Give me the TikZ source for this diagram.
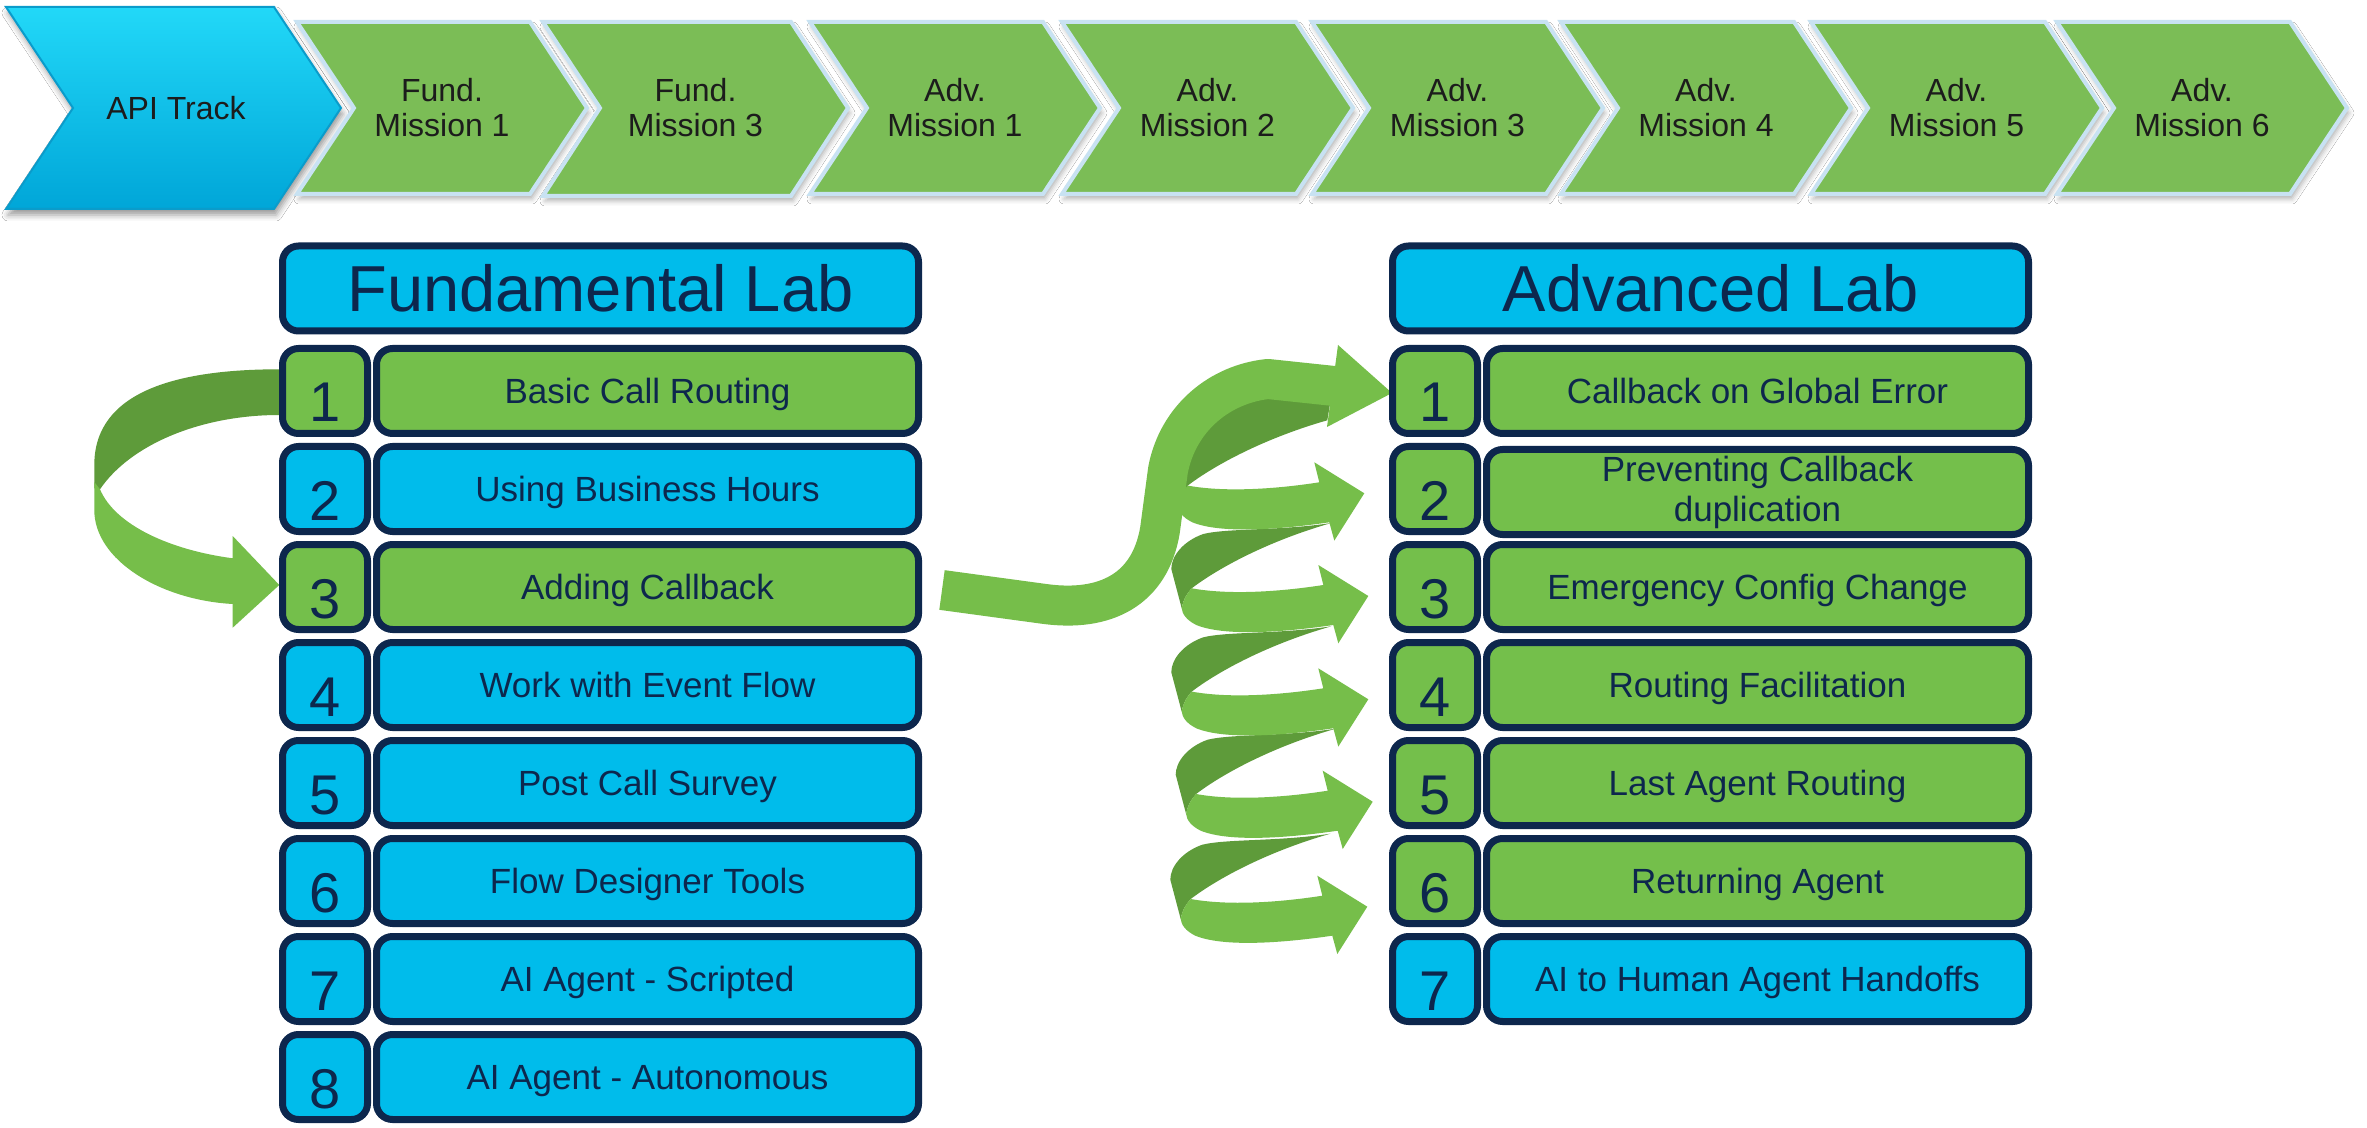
\documentclass[tikz,border=0pt]{standalone}
\usepackage{fontspec}
\setmainfont{Liberation Sans}
\usetikzlibrary{shadows.blur}

\definecolor{boxblue}{HTML}{00BCEB}
\definecolor{boxgreen}{HTML}{74BF4B}
\definecolor{navy}{HTML}{0D274D}
\definecolor{ribbonlight}{HTML}{76BE4A}
\definecolor{ribbondark}{HTML}{5E9B3A}
\definecolor{chevfill}{HTML}{7BBD56}
\definecolor{chevedge}{HTML}{C8E2F2}
\definecolor{apitop}{HTML}{22D8F8}
\definecolor{apibot}{HTML}{00A6D8}
\definecolor{apiedge}{HTML}{0A9CCB}
\definecolor{chevink}{HTML}{1C1C1C}

% green mission chevron: #1 left x, #2 total width, #3 bottom y, #4 name, #5 label
\newcommand\mychev[5]{%
  \path[chevgreen] (#1,22) -- ({#1+#2-57},22) -- ({#1+#2},108) -- ({#1+#2-57},#3)
    -- (#1,#3) -- ({#1+57},108) -- cycle;
  \node[chevtext] (#4) at ({#1+#2/2},108) {#5};
}

\begin{document}
\begin{tikzpicture}[x=0.5pt,y=-0.5pt,
  chevgreen/.style={fill=chevfill, draw=chevedge, line width=2pt, line join=miter,
    blur shadow={shadow xshift=1pt, shadow yshift=-2.5pt, shadow blur radius=2.5pt, shadow opacity=30}},
  apichev/.style={top color=apitop, bottom color=apibot, draw=apiedge, line width=1pt,
    blur shadow={shadow xshift=1pt, shadow yshift=-3pt, shadow blur radius=3pt, shadow opacity=40}},
  chevtext/.style={align=center, text=chevink, font=\fontsize{16}{17.5}\selectfont, inner sep=0pt},
  labbox/.style={draw=navy, line width=3.5pt, rounded corners=8pt, inner sep=0pt, text=navy},
  numbox/.style={labbox, minimum width=42.5pt, minimum height=42.5pt,
    font=\fontsize{28}{30}\selectfont, text height=33pt, text depth=2pt},
  itembox/.style={labbox, minimum width=271pt, minimum height=42.5pt,
    font=\fontsize{17.5}{20}\selectfont, text height=15pt, text depth=2.5pt},
  itemtwo/.style={labbox, minimum width=271pt, minimum height=42.5pt, align=center,
    font=\fontsize{17.5}{20}\selectfont},
  headbox/.style={labbox, fill=boxblue, minimum width=318pt, minimum height=42.5pt,
    font=\fontsize{32.5}{36}\selectfont},
]
\useasboundingbox (0,0) rectangle (2367,1128);
\fill[white] (0,0) rectangle (2367,1128);

% ---- track banner ----
\path[apichev] (6,7) -- (274,7) -- (341,108) -- (274,209) -- (6,209) -- (73,108) -- cycle;
\node[chevtext] (api) at (176,108) {API Track};
\mychev{297}{290}{194}{m1}{Fund.\\Mission 1}
\mychev{543}{305}{196}{m2}{Fund.\\Mission 3}
\mychev{810}{290}{194}{m3}{Adv.\\Mission 1}
\mychev{1062}{291}{194}{m4}{Adv.\\Mission 2}
\mychev{1312}{291}{194}{m5}{Adv.\\Mission 3}
\mychev{1561}{290}{194}{m6}{Adv.\\Mission 4}
\mychev{1811}{291}{194}{m7}{Adv.\\Mission 5}
\mychev{2057}{290}{194}{m8}{Adv.\\Mission 6}

% ---- coil ribbon: back faces ----
\fill[ribbondark] (1330,404) .. controls (1300,398) and (1285,394) .. (1262,394)
  .. controls (1230,395) and (1200,415) .. (1188,450) -- (1175,480) -- (1180,505)
  -- (1187.7,485.6) .. controls (1214.3,465.3) and (1264.3,438.3) .. (1327.3,420.3) -- cycle;
\foreach \tx/\ty in {1368.3/596, 1368.3/699.3, 1372.7/801.7, 1367.3/906.7}{
  \begin{scope}[shift={(\tx,\ty)}]
    \fill[ribbondark] (-37,-73) .. controls (-90,-65) and (-140,-68) .. (-165,-62)
      .. controls (-185,-55) and (-197,-40) .. (-197,-27) -- (-186.6,12.3)
      .. controls (-185,3) and (-181,-3) .. (-176.6,-7.7)
      .. controls (-150,-28) and (-100,-55) .. (-37,-73) -- cycle;
  \end{scope}
}
% ---- coil ribbon: front faces with arrow heads ----
\foreach \tx/\ty in {1364.3/493.3, 1368.3/596, 1368.3/699.3, 1372.7/801.7, 1367.3/906.7}{
  \begin{scope}[shift={(\tx,\ty)}]
    \fill[ribbonlight] (-176.6,-7.7) .. controls (-140,-1) and (-90,-4) .. (-45,-11)
      -- (-50,-31) -- (0,0) -- (-30,47.3) -- (-35,29)
      .. controls (-90,37) and (-145,40) .. (-172,29)
      .. controls (-182,24) and (-186,18) .. (-186.6,12.3)
      .. controls (-185,3) and (-181,-3) .. (-176.6,-7.7) -- cycle;
  \end{scope}
}

% ---- loop from step 1 back to step 3 ----
\fill[ribbondark] (300,369.3) -- (279.3,369.3) .. controls (180,369.3) and (94.3,390) .. (94.3,465)
  -- (94.3,488.3) -- (100,489.3) .. controls (130,445) and (200,415) .. (279.3,415) -- (300,415) -- cycle;
\fill[ribbonlight] (94.3,482) -- (94.3,510) .. controls (94.3,560) and (160,600) .. (232.7,604)
  -- (232.7,627.7) -- (279.3,585) -- (232.7,536) -- (232.7,558.3)
  .. controls (170,550) and (115,525) .. (100,489.3) -- cycle;

% ---- main ribbon from step 3 up to advanced step 1 ----
\draw[ribbonlight, line width=20pt, line join=round] (942,590) -- (1045,604)
  .. controls (1105,612) and (1150,590) .. (1160,530) -- (1168,470)
  .. controls (1178,418) and (1220,384) .. (1268,379) -- (1334,386);
\fill[ribbonlight] (1338,345) -- (1392,393) -- (1327,427) -- cycle;

% ---- Fundamental Lab ----
\node[headbox] (fhead) at (600.5,288.5) {Fundamental Lab};
\foreach \i/\c/\t in {1/boxgreen/Basic Call Routing, 2/boxblue/Using Business Hours,
    3/boxgreen/Adding Callback, 4/boxblue/Work with Event Flow, 5/boxblue/Post Call Survey,
    6/boxblue/Flow Designer Tools, 7/boxblue/AI Agent - Scripted, 8/boxblue/AI Agent - Autonomous}{
  \node[numbox, fill=\c] (fn\i) at (325,{391+98*(\i-1)}) {\i};
  \node[itembox, fill=\c] (ft\i) at (647.5,{391+98*(\i-1)}) {\t};
}

% ---- Advanced Lab ----
\node[headbox] (ahead) at (1710.5,288.5) {Advanced Lab};
\foreach \i/\c in {1/boxgreen, 2/boxgreen, 3/boxgreen, 4/boxgreen, 5/boxgreen, 6/boxgreen, 7/boxblue}{
  \node[numbox, fill=\c] (an\i) at (1435,{391+98*(\i-1)}) {\i};
}
\node[itembox, fill=boxgreen] (at1) at (1757.5,391) {Callback on Global Error};
\node[itemtwo, fill=boxgreen, yshift=-1.5pt] (at2) at (1757.5,489) {Preventing Callback\\duplication};
\node[itembox, fill=boxgreen] (at3) at (1757.5,587) {Emergency Config Change};
\node[itembox, fill=boxgreen] (at4) at (1757.5,685) {Routing Facilitation};
\node[itembox, fill=boxgreen] (at5) at (1757.5,783) {Last Agent Routing};
\node[itembox, fill=boxgreen] (at6) at (1757.5,881) {Returning Agent};
\node[itembox, fill=boxblue] (at7) at (1757.5,979) {AI to Human Agent Handoffs};
\end{tikzpicture}
\end{document}
